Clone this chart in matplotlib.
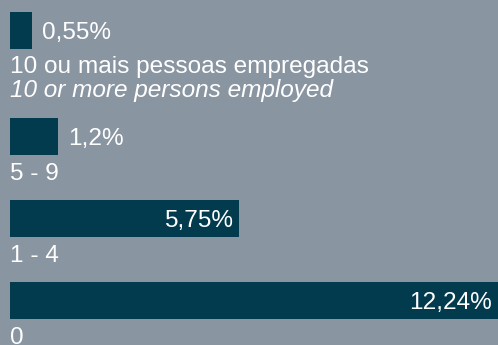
import matplotlib
matplotlib.use("Agg")
import matplotlib.pyplot as plt

# share of enterprises by number of persons employed
categories = ["10 ou mais pessoas empregadas", "5 - 9", "1 - 4", "0"]
subtitles = ["10 or more persons employed", None, None, None]
values = [0.55, 1.2, 5.75, 12.24]
value_labels = ["0,55%", "1,2%", "5,75%", "12,24%"]

bg_color = "#8a95a2"
bar_color = "#023a4e"
text_color = "white"
font = "Liberation Sans"
fs = 17.55

W, H, DPI = 498, 345, 100

# layout in pixels
left_px = 10
bar_h = 37
first_base = 24.5   # bar bottom -> first label baseline
line_h = 24
after_label = 20.5  # last label baseline -> next bar top
top_px = 12
digit_half = 8.7

fig = plt.figure(figsize=(W / DPI, H / DPI), dpi=DPI)
fig.patch.set_facecolor(bg_color)
ax = fig.add_axes([0, 0, 1, 1])
ax.set_facecolor(bg_color)

# x scale: largest value reaches the right edge
px_per_unit = (W - left_px) / max(values)
ax.set_xlim(-left_px / px_per_unit, (W - left_px) / px_per_unit)
ax.set_ylim(H, 0)
ax.axis("off")

y = top_px
for cat, sub, v, lab in zip(categories, subtitles, values, value_labels):
    center = y + bar_h / 2
    ax.barh(center, v, height=bar_h, left=0, color=bar_color)

    inside = v > 3
    if inside:
        ax.annotate(lab, (v, center + digit_half), xytext=(-6, 0),
                    textcoords="offset pixels", ha="right", va="baseline",
                    color=text_color, fontsize=fs, family=font)
    else:
        ax.annotate(lab, (v, center + digit_half), xytext=(10, 0),
                    textcoords="offset pixels", ha="left", va="baseline",
                    color=text_color, fontsize=fs, family=font)

    base = y + bar_h + first_base
    ax.text(0, base, cat, ha="left", va="baseline", color=text_color,
            fontsize=fs, family=font)
    n_lines = 1
    if sub:
        ax.text(0, base + line_h, sub, ha="left", va="baseline",
                color=text_color, fontsize=fs, family=font, style="italic")
        n_lines = 2
    y += bar_h + first_base + line_h * (n_lines - 1) + after_label

fig.savefig("out.png", dpi=DPI, facecolor=bg_color)
